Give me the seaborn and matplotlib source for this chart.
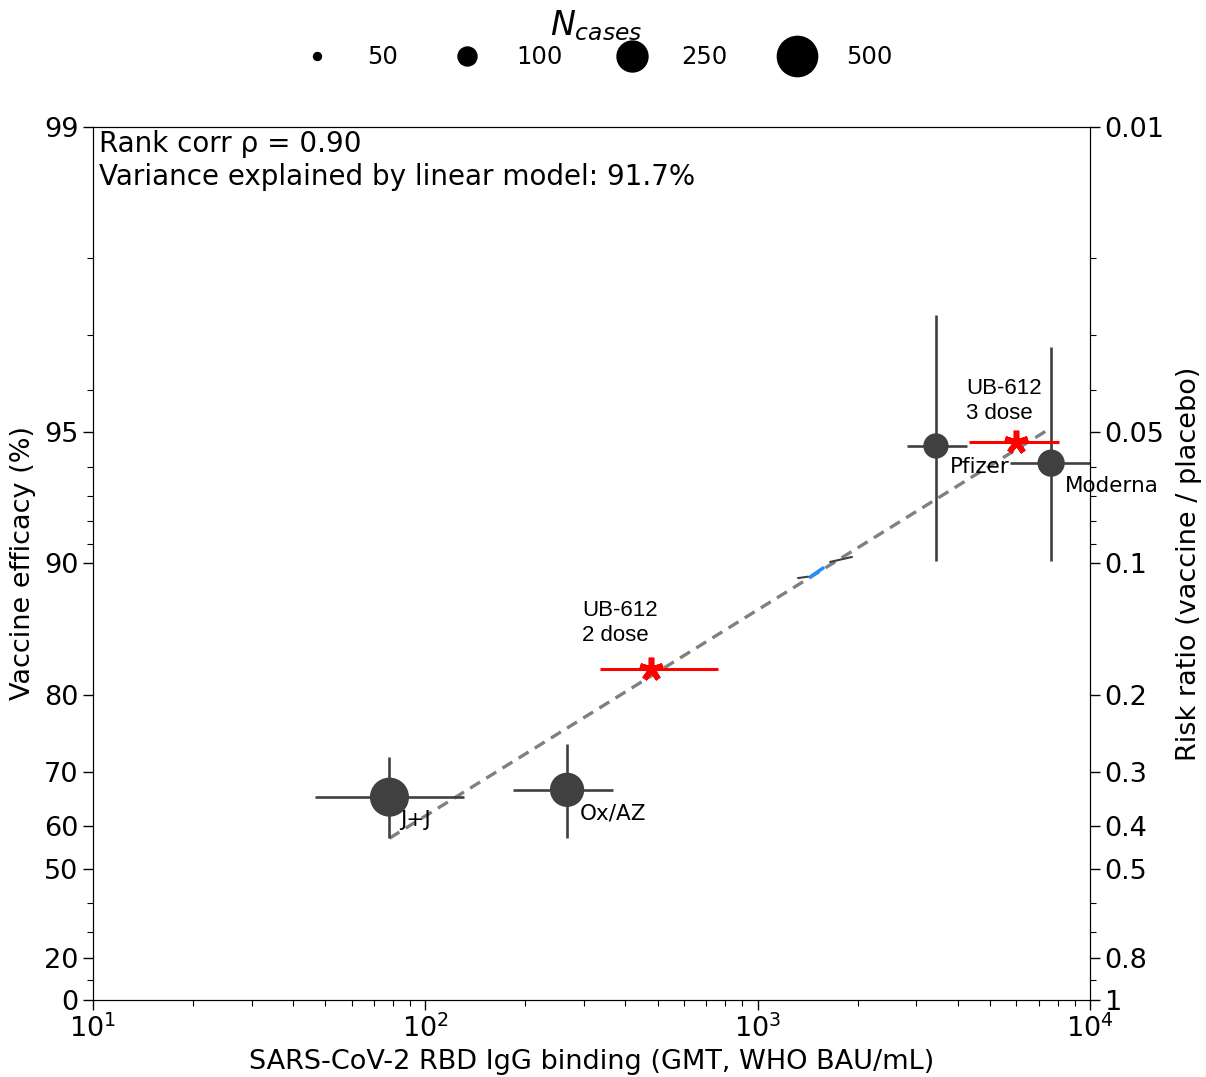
import numpy as np
import pandas as pd
import matplotlib.pyplot as plt
import seaborn as sns
from matplotlib.lines import Line2D
from matplotlib.ticker import LogLocator, NullFormatter

# =========================================================
# DATA
# =========================================================
vaccines = ["J+J", "Ox/AZ", "Pfizer", "Moderna"]
gmt = [78, 267, 3440, 7640]
gmt_lo = [46.6, 184, 2820, 5750]
gmt_hi = [131, 367, 4270, 10000]
risk_ratio = [0.343, 0.330, 0.0538, 0.0589]
rr_lo = [0.277, 0.259, 0.027, 0.032]
rr_hi = [0.426, 0.426, 0.0987, 0.0987]
n_cases = [464, 332, 170, 196]

ub_labels = ["UB-612\n2 dose", "UB-612\n3 dose"]
ub_gmt = [478, 6000]
ub_gmt_lo = [336, 4325]
ub_gmt_hi = [760, 8074]
ub_rr = [0.1747, 0.0527]

# linear model in log-log space (end points of the dashed line)
fit_gmt = [78, 7640]
fit_rr = [0.426, 0.0489]

# small stray segments near the fit line
frag_blue_gmt = [1439, 1574]
frag_blue_rr = [0.1074, 0.1024]
frag_dark1_gmt = [1323, 1418]
frag_dark1_rr = [0.1080, 0.1072]
frag_dark2_gmt = [1652, 1923]
frag_dark2_rr = [0.0992, 0.0966]

rr_ticks = [0.01, 0.05, 0.1, 0.2, 0.3, 0.4, 0.5, 0.8, 1]
rr_tick_labels = ["0.01", "0.05", "0.1", "0.2", "0.3", "0.4", "0.5", "0.8", "1"]
efficacy_tick_labels = ["99", "95", "90", "80", "70", "60", "50", "20", "0"]

legend_n = [50, 100, 250, 500]
legend_area = [33, 187, 497, 841]   # marker area (pt^2) for each legend entry

stats_text = "Rank corr \u03c1 = 0.90\nVariance explained by linear model: 91.7%"

# =========================================================
# STYLE
# =========================================================
sns.set_style("ticks")
plt.rcParams["font.family"] = ["DejaVu Sans"]
plt.rcParams.update({
    "text.color": "black", "axes.labelcolor": "black", "axes.edgecolor": "black",
    "xtick.color": "black", "ytick.color": "black",
})
FS = 19.5
DARK = "#404040"

df = pd.DataFrame({"vaccine": vaccines, "gmt": gmt, "rr": risk_ratio, "n_cases": n_cases})
size_map = {n: float(np.interp(n, legend_n, legend_area)) for n in n_cases}

fig = plt.figure(figsize=(12.06, 10.77), dpi=100)
ax = fig.add_axes([0.0771, 0.0715, 0.8267, 0.8106])

# fit line
sns.lineplot(x=fit_gmt, y=fit_rr, ax=ax, color="#808080", lw=2.4, linestyle=(0, (3.5, 2.2)), zorder=1)
sns.lineplot(x=frag_blue_gmt, y=frag_blue_rr, ax=ax, color="#1e90ff", lw=2.5, zorder=1)
sns.lineplot(x=frag_dark1_gmt, y=frag_dark1_rr, ax=ax, color=DARK, lw=1.5, zorder=1)
sns.lineplot(x=frag_dark2_gmt, y=frag_dark2_rr, ax=ax, color=DARK, lw=1.5, zorder=1)

# vaccine error bars
g = np.array(gmt); r = np.array(risk_ratio)
ax.errorbar(g, r,
            xerr=[g - np.array(gmt_lo), np.array(gmt_hi) - g],
            yerr=[r - np.array(rr_lo), np.array(rr_hi) - r],
            fmt="none", ecolor=DARK, elinewidth=1.9, capsize=0, zorder=2)

sns.scatterplot(data=df, x="gmt", y="rr", size="n_cases", sizes=size_map,
                color=DARK, edgecolor=DARK, linewidth=0, legend=False, ax=ax, zorder=3)

# UB-612
ug = np.array(ub_gmt)
ax.errorbar(ug, ub_rr, xerr=[ug - np.array(ub_gmt_lo), np.array(ub_gmt_hi) - ug],
            fmt="none", ecolor="red", elinewidth=2.2, capsize=0, zorder=2)
ax.plot(ub_gmt, ub_rr, ls="", marker=(5, 2, 0), ms=17, mew=4, color="red", zorder=4)

# labels
label_pos = {"J+J": (84, 0.387), "Ox/AZ": (292, 0.373), "Pfizer": (3790, 0.0601), "Moderna": (8410, 0.0665)}
for name in vaccines:
    x, y = label_pos[name]
    ax.text(x, y, name, fontsize=15.5, ha="left", va="center", zorder=5)

ub_pos = [(296, 0.1368), (4236, 0.0425)]
for (x, y), lab in zip(ub_pos, ub_labels):
    ax.text(x, y, lab, fontsize=16, ha="left", va="center", family=["Liberation Sans"],
            linespacing=1.25, zorder=5)

ax.text(0.006, 0.996, stats_text, transform=ax.transAxes, ha="left", va="top", fontsize=20,
        linespacing=1.22)

# axes
ax.set_xscale("log")
ax.set_yscale("log")
ax.set_xlim(10, 1e4)
ax.set_ylim(1, 0.01)
ax.set_yticks(rr_ticks)
ax.set_yticklabels(efficacy_tick_labels)
ax.yaxis.set_minor_locator(LogLocator(base=10, subs=np.arange(2, 10)))
ax.yaxis.set_minor_formatter(NullFormatter())
ax.set_xlabel("SARS-CoV-2 RBD IgG binding (GMT, WHO BAU/mL)", fontsize=FS, labelpad=4)
ax.set_ylabel("Vaccine efficacy (%)", fontsize=FS, labelpad=6)
ax.tick_params(axis="both", which="major", labelsize=FS, length=7, width=1)
ax.tick_params(axis="both", which="minor", length=4, width=0.8)

ax2 = ax.twinx()
ax2.set_yscale("log")
ax2.set_ylim(1, 0.01)
ax2.set_yticks(rr_ticks)
ax2.set_yticklabels(rr_tick_labels)
ax2.yaxis.set_minor_locator(LogLocator(base=10, subs=np.arange(2, 10)))
ax2.yaxis.set_minor_formatter(NullFormatter())
ax2.tick_params(axis="y", which="major", labelsize=FS, length=7, width=1)
ax2.tick_params(axis="y", which="minor", length=4, width=0.8)
ax2.set_ylabel("Risk ratio (vaccine / placebo)", fontsize=FS, labelpad=8)

# size legend
handles = [Line2D([], [], marker="o", ls="", color="black", markersize=np.sqrt(a)) for a in legend_area]
fig.legend(handles, [str(n) for n in legend_n], loc="upper center", bbox_to_anchor=(0.494, 1.006),
           ncol=4, frameon=False, title="$N_{cases}$", fontsize=17.5, title_fontsize=24,
           handlelength=1.5, handletextpad=1.28, columnspacing=2.1, labelspacing=0.1,
           borderpad=0.1)

fig.savefig("out.png", dpi=100)
